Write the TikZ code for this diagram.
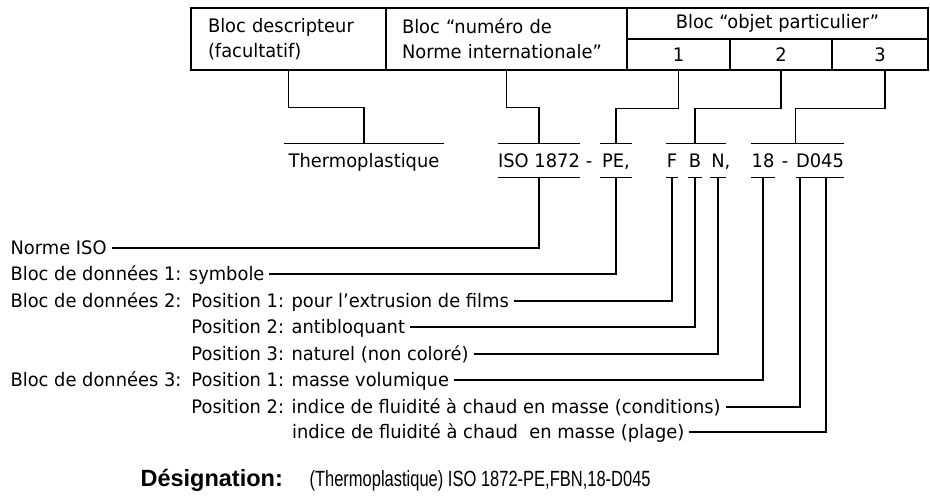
\documentclass[tikz,border=0pt]{standalone}
\usepackage{fontspec}
\setmainfont{DejaVu Sans}[FakeStretch=0.96]
\newfontfamily\desfont[FakeStretch=0.75]{Liberation Sans}
\newfontfamily\desbold{Liberation Sans}
\usepackage{tikz}
\usetikzlibrary{
	positioning,
	calc
}

\begin{document}
\begin{tikzpicture}[
		x=1pt, y=-1pt,
		line width=1.1pt,
		font=\fontsize{18.6}{25}\selectfont,
		block/.style={
			draw,
			minimum height=62pt,
			inner ysep=0pt,
			align=left
		},
		cellbox/.style={
			draw,
			minimum height=31pt,
			inner sep=0pt
		},
		item/.style={
			inner sep=0pt,
			minimum height=33pt,
			text height=13.5pt,
			text depth=0pt
		},
		lbl/.style={
			anchor=west,
			inner xsep=4.5pt,
			inner ysep=0pt,
			text height=13.5pt,
			text depth=0pt
		}
		]
		\useasboundingbox (0,0) rectangle (930,496);
		
		% Header
		\node[block, text width=161pt, inner xsep=17pt] (desc) at (288.5,39) {Bloc descripteur\\(facultatif)};
		\node[block, text width=209pt, inner xsep=16pt] (norm) at (506.5,39) {Bloc “numéro de\\Norme internationale”};
		\node[cellbox, minimum width=301pt] (obj) at (777.5,23.5) {Bloc “objet particulier”};
		\foreach \n/\x/\w in {1/678.5/103, 2/781/102, 3/880/96}
		\node[cellbox, minimum width=\w pt] (c\n) at (\x,54.5) {\n};
		
		% Designation parts
		\node[item, minimum width=158pt] (thermo) at (364,160.5) {Thermoplastique};
		\node[item, minimum width=78pt] (iso) at (539,160.5) {ISO 1872};
		\node[item] (dash1) at (589,160.5) {-};
		\node[item, minimum width=30pt] (pe) at (616,160.5) {PE,};
		\node[item, minimum width=10pt] (F) at (672,160.5) {F};
		\node[item, minimum width=12pt] (B) at (695,160.5) {B};
		\node[item, minimum width=14pt] (N) at (718,160.5) {N\rlap{,}};
		\node[item, minimum width=21pt] (d18) at (763,160.5) {18};
		\node[item] (dash2) at (785,160.5) {-};
		\node[item, minimum width=46pt] (d045) at (820,160.5) {D045};
		
		% Over- and underlines
		\draw (thermo.north west) -- (thermo.north east);
		\draw (iso.north west) -- (iso.north east);
		\draw (pe.north west) -- (pe.north east);
		\draw (F.north west) -- (N.north east);
		\draw (d18.north west) -- (d045.north east);
		\foreach \p in {iso,pe,F,B,N,d18,d045}
		\draw (\p.south west) -- (\p.south east);
		
		% Stems from the header
		\draw (desc.south) -- ++(0,37) -| (thermo.north);
		\draw (norm.south) -- ++(0,37) -| (iso.north);
		\draw (c1.south) -- ++(0,38) -| (pe.north);
		\draw (c2.south) -- ++(0,38) -| (B.north);
		\draw ([xshift=5pt]c3.south) -- ++(0,38) -| (d045.north west);
		
		% Labels
		\node[lbl] (normiso) at (5.5,248) {Norme ISO};
		\node[lbl] (bloc1) at (5.5,274) {Bloc de données 1: symbole};
		\node[lbl] (bloc2) at (5.5,301) {Bloc de données 2:};
		\node[lbl, right=0pt of bloc2] (pos21) {Position 1: pour l’extrusion de films};
		\node[lbl] (pos22) at (pos21.west |- 0,327) {Position 2: antibloquant};
		\node[lbl] (pos23) at (pos21.west |- 0,354) {Position 3: naturel (non coloré)};
		\node[lbl] (bloc3) at (5.5,380) {Bloc de données 3:};
		\node[lbl, right=0pt of bloc3] (pos31) {Position 1: masse volumique};
		\node[lbl] (pos32) at (pos31.west |- 0,407) {Position 2: indice de fluidité à chaud en masse (conditions)};
		\node[lbl] (plage) at (287,432) {indice de fluidité à chaud \ en masse (plage)};
		
		\draw (iso.south) |- (normiso.east);
		\draw (pe.south) |- (bloc1.east);
		\draw (F.south) |- (pos21.east);
		\draw (B.south) |- (pos22.east);
		\draw (N.south) |- (pos23.east);
		\draw (d18.south) |- (pos31.east);
		\draw ([xshift=-20pt]d045.south) |- (pos32.east);
		\draw ([xshift=6pt]d045.south) |- (plage.east);
		
		% Designation
		\node[anchor=base west, inner sep=0pt, font=\desbold\bfseries\fontsize{23.5}{28}\selectfont] (desig) at (140,486) {Désignation:};
		\node[anchor=base west, inner sep=0pt, font=\desfont\fontsize{22}{28}\selectfont] (desigtext) at (309,486) {(Thermoplastique) ISO 1872-PE,FBN,18-D045};
		
	\end{tikzpicture}
\end{document}
